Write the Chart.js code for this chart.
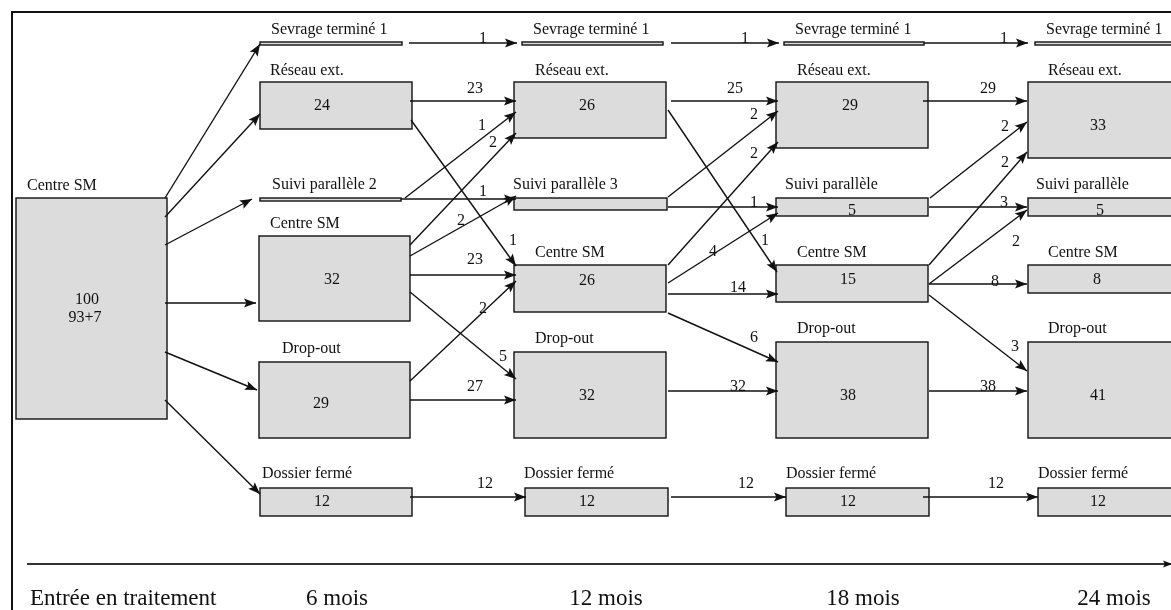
<!DOCTYPE html>
<html lang="fr">
<head>
<meta charset="utf-8">
<script src="https://cdn.jsdelivr.net/npm/chart.js@4.4.1/dist/chart.umd.min.js"></script>
<style>
  html, body { margin: 0; padding: 0; background: #fff; }
  #wrap { width: 1171px; height: 610px; position: relative; }
</style>
</head>
<body>
<div id="wrap"><canvas id="flowChart"></canvas></div>
<script>
// time points and states
const periods = ['Entrée en traitement', '6 mois', '12 mois', '18 mois', '24 mois'];
const states = ['Sevrage terminé', 'Réseau ext.', 'Suivi parallèle', 'Centre SM', 'Drop-out', 'Dossier fermé'];

// patients per state at each time point
const startCount = ['100', '93+7'];
const counts6 = [1, 24, 2, 32, 29, 12];
const counts12 = [1, 26, 3, 26, 32, 12];
const counts18 = [1, 29, 5, 15, 38, 12];
const counts24 = [1, 33, 5, 8, 41, 12];

// transitions: [from state, to state, patients]
const flowsStart = [[3, 0, 1], [3, 1, 24], [3, 2, 2], [3, 3, 32], [3, 4, 29], [3, 5, 12]];
const flows6 = [[0, 0, 1], [1, 1, 23], [1, 3, 1], [2, 1, 1], [2, 2, 1], [3, 1, 2], [3, 2, 2], [3, 3, 23], [3, 4, 5], [4, 3, 2], [4, 4, 27], [5, 5, 12]];
const flows12 = [[0, 0, 1], [1, 1, 25], [1, 3, 1], [2, 1, 2], [2, 2, 1], [3, 1, 2], [3, 2, 4], [3, 3, 14], [3, 4, 6], [4, 4, 32], [5, 5, 12]];
const flows18 = [[0, 0, 1], [1, 1, 29], [2, 1, 2], [2, 2, 3], [3, 1, 2], [3, 2, 2], [3, 3, 8], [3, 4, 3], [4, 4, 38], [5, 5, 12]];

// ---- layout (diagram units, 1 unit = 1 px) ----
const startBox = { box: [16, 198, 167, 419], title: [27, 190], value: [[87, 300], [85, 318]] };
const boxes6 = [
    { box: [260, 42, 402, 45], title: [271, 34] },
    { box: [260, 82, 412, 129], title: [270, 75], value: [322, 106] },
    { box: [260, 198, 401, 201], title: [272, 189] },
    { box: [259, 236, 410, 321], title: [270, 228], value: [332, 280] },
    { box: [259, 362, 410, 438], title: [282, 353], value: [321, 404] },
    { box: [260, 488, 412, 516], title: [262, 478], value: [322, 502] }
];
const boxes12 = [
    { box: [522, 42, 663, 45], title: [533, 34] },
    { box: [514, 82, 666, 138], title: [535, 75], value: [587, 106] },
    { box: [514, 198, 667, 210], title: [513, 189] },
    { box: [514, 265, 666, 312], title: [535, 257], value: [587, 281] },
    { box: [514, 352, 666, 438], title: [535, 343], value: [587, 396] },
    { box: [525, 488, 668, 516], title: [524, 478], value: [587, 502] }
];
const boxes18 = [
    { box: [784, 42, 924, 45], title: [795, 34] },
    { box: [776, 82, 928, 148], title: [797, 75], value: [850, 106] },
    { box: [776, 198, 928, 216], title: [785, 189], value: [852, 211] },
    { box: [776, 265, 928, 302], title: [797, 257], value: [848, 280] },
    { box: [776, 342, 928, 438], title: [797, 333], value: [848, 396] },
    { box: [786, 488, 929, 516], title: [786, 478], value: [848, 502] }
];
const boxes24 = [
    { box: [1035, 42, 1190, 45], title: [1046, 34] },
    { box: [1028, 82, 1190, 158], title: [1048, 75], value: [1098, 126] },
    { box: [1028, 198, 1190, 216], title: [1036, 189], value: [1100, 211] },
    { box: [1028, 265, 1190, 293], title: [1048, 257], value: [1097, 280] },
    { box: [1028, 342, 1190, 438], title: [1048, 333], value: [1098, 396] },
    { box: [1038, 488, 1190, 516], title: [1038, 478], value: [1098, 502] }
];

// arrow paths [x0, y0, x1, y1, labelX, labelY] aligned with the flow lists
const pathsStart = [[165, 198, 260, 44], [165, 217, 260, 114], [165, 245, 252, 199], [165, 303, 256, 303], [165, 352, 257, 390], [165, 400, 260, 494]];
const paths6 = [
    [409, 43, 517, 43, 483, 39], [410, 101, 516, 101, 475, 89], [411, 120, 516, 266, 513, 241],
    [405, 198, 516, 112, 482, 126], [401, 199, 516, 199, 483, 192], [410, 245, 516, 133, 493, 143],
    [410, 256, 516, 196, 461, 221], [410, 275, 516, 275, 475, 260], [410, 292, 516, 379, 503, 357],
    [410, 381, 516, 281, 483, 309], [410, 400, 516, 400, 475, 387], [410, 497, 526, 497, 485, 484]
];
const paths12 = [
    [671, 43, 779, 43, 745, 39], [671, 101, 778, 101, 735, 89], [668, 110, 777, 272, 765, 241],
    [668, 197, 778, 111, 754, 115], [668, 207, 778, 207, 754, 203], [668, 265, 778, 142, 754, 154],
    [668, 283, 778, 213, 713, 252], [668, 294, 778, 294, 738, 288], [668, 313, 778, 362, 754, 338],
    [668, 391, 778, 391, 738, 387], [671, 497, 786, 497, 746, 484]
];
const paths18 = [
    [924, 43, 1028, 43, 1004, 39], [923, 101, 1027, 101, 988, 89], [930, 198, 1027, 122, 1005, 127],
    [929, 207, 1027, 207, 1004, 203], [929, 265, 1027, 152, 1005, 163], [929, 284, 1027, 210, 1016, 242],
    [929, 284, 1027, 284, 995, 282], [929, 295, 1027, 371, 1015, 347], [929, 391, 1027, 391, 988, 387],
    [923, 497, 1038, 497, 996, 484]
];
const axisLine = [27, 564, 1172, 564];
const periodLabels = [[30, 'left'], [337, 'center'], [606, 'center'], [863, 'center'], [1114, 'center']];

const FONT = '"Liberation Serif", "DejaVu Serif", serif';
const BOX_FILL = '#dcdcdc';
const INK = '#111';

function flowDatasets(flows, paths) {
    return flows.map((f, i) => {
        const p = paths[i];
        return {
            label: states[f[0]] + ' → ' + states[f[1]],
            data: [{ x: p[0], y: p[1] }, { x: p[2], y: p[3] }],
            flowValue: f[2],
            labelAt: p.length > 4 ? [p[4], p[5]] : null,
            arrow: true
        };
    });
}

const datasets = [
    ...flowDatasets(flowsStart, pathsStart),
    ...flowDatasets(flows6, paths6),
    ...flowDatasets(flows12, paths12),
    ...flowDatasets(flows18, paths18),
    {
        label: 'axe',
        data: [{ x: axisLine[0], y: axisLine[1] }, { x: axisLine[2], y: axisLine[3] }],
        borderColor: '#333',
        borderWidth: 1.8,
        arrow: true,
        headLen: 9,
        headHalf: 3.5
    }
];

const columns = [
    { layout: boxes6, counts: counts6 },
    { layout: boxes12, counts: counts12 },
    { layout: boxes18, counts: counts18 },
    { layout: boxes24, counts: counts24 }
];

const diagramPlugin = {
    id: 'diagram',
    beforeDatasetsDraw(chart) {
        const { ctx, scales: { x, y } } = chart;
        const px = v => x.getPixelForValue(v);
        const py = v => y.getPixelForValue(v);

        ctx.save();
        // outer frame
        ctx.strokeStyle = INK;
        ctx.lineWidth = 2;
        ctx.strokeRect(px(12), py(12), px(1200) - px(12), py(640) - py(12));

        ctx.font = '16px ' + FONT;
        ctx.fillStyle = INK;

        const drawBox = (b) => {
            const x0 = px(b[0]), y0 = py(b[1]), x1 = px(b[2]), y1 = py(b[3]);
            ctx.fillStyle = BOX_FILL;
            ctx.fillRect(x0, y0, x1 - x0, y1 - y0);
            ctx.strokeStyle = INK;
            ctx.lineWidth = 1.4;
            ctx.strokeRect(x0, y0, x1 - x0, y1 - y0);
        };

        // start node
        drawBox(startBox.box);
        ctx.fillStyle = INK;
        ctx.textBaseline = 'alphabetic';
        ctx.textAlign = 'left';
        ctx.fillText(states[3], px(startBox.title[0]), py(startBox.title[1]));
        ctx.textAlign = 'center';
        ctx.textBaseline = 'middle';
        startCount.forEach((t, i) => ctx.fillText(t, px(startBox.value[i][0]), py(startBox.value[i][1])));

        columns.forEach(col => {
            col.layout.forEach((node, s) => {
                drawBox(node.box);
                ctx.fillStyle = INK;
                ctx.textAlign = 'left';
                ctx.textBaseline = 'alphabetic';
                const title = node.value ? states[s] : states[s] + ' ' + col.counts[s];
                ctx.fillText(title, px(node.title[0]), py(node.title[1]));
                if (node.value) {
                    ctx.textAlign = 'center';
                    ctx.textBaseline = 'middle';
                    ctx.fillText(String(col.counts[s]), px(node.value[0]), py(node.value[1]));
                }
            });
        });
        ctx.restore();
    },
    afterDatasetsDraw(chart) {
        const { ctx, scales: { x, y } } = chart;
        ctx.save();
        chart.data.datasets.forEach((ds, i) => {
            if (!ds.arrow) return;
            const pts = chart.getDatasetMeta(i).data;
            const a = pts[pts.length - 2], b = pts[pts.length - 1];
            const ang = Math.atan2(b.y - a.y, b.x - a.x);
            const c = Math.cos(ang), s = Math.sin(ang);
            const len = ds.headLen || 12, half = ds.headHalf || 4.6, notch = len * 0.2;
            ctx.fillStyle = INK;
            ctx.beginPath();
            ctx.moveTo(b.x, b.y);
            ctx.lineTo(b.x - len * c + half * s, b.y - len * s - half * c);
            ctx.lineTo(b.x - (len - notch) * c, b.y - (len - notch) * s);
            ctx.lineTo(b.x - len * c - half * s, b.y - len * s + half * c);
            ctx.closePath();
            ctx.fill();

            if (ds.labelAt) {
                ctx.font = '16px ' + FONT;
                ctx.textAlign = 'center';
                ctx.textBaseline = 'middle';
                ctx.fillText(String(ds.flowValue), x.getPixelForValue(ds.labelAt[0]), y.getPixelForValue(ds.labelAt[1]));
            }
        });

        // time points under the axis
        ctx.font = '23px ' + FONT;
        ctx.textBaseline = 'alphabetic';
        ctx.fillStyle = INK;
        periods.forEach((p, i) => {
            ctx.textAlign = periodLabels[i][1];
            ctx.fillText(p, x.getPixelForValue(periodLabels[i][0]), y.getPixelForValue(605));
        });
        ctx.restore();
    }
};

new Chart(document.getElementById('flowChart'), {
    type: 'scatter',
    data: { datasets },
    options: {
        responsive: true,
        maintainAspectRatio: false,
        animation: false,
        events: [],
        layout: { padding: 0 },
        elements: {
            point: { radius: 0, hoverRadius: 0 },
            line: { borderColor: INK, borderWidth: 1.4, tension: 0 }
        },
        datasets: {
            scatter: { showLine: true, clip: false, borderColor: INK, borderWidth: 1.4, pointRadius: 0 }
        },
        plugins: {
            legend: { display: false },
            tooltip: { enabled: false }
        },
        scales: {
            x: { type: 'linear', min: 0, max: 1171, display: false },
            y: { type: 'linear', min: 0, max: 610, reverse: true, display: false }
        }
    },
    plugins: [diagramPlugin]
});
</script>
</body>
</html>
